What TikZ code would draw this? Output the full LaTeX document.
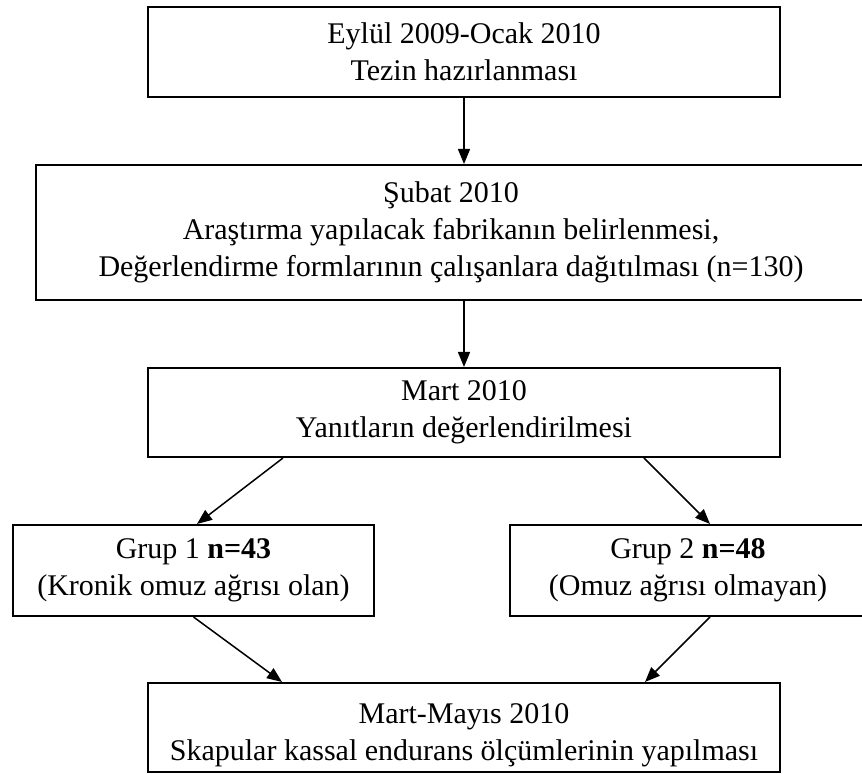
\documentclass[tikz,border=0pt]{standalone}
\usepackage{fontspec}
\setmainfont{Liberation Serif}
\usepackage{tikz}
\usetikzlibrary{positioning}
\usetikzlibrary{arrows.meta}

\begin{document}
\begin{tikzpicture}[x=1pt,y=1pt,
  kutu/.style={draw, line width=1pt, align=center, inner sep=0pt, font=\fontsize{15}{18.5}\selectfont},
  ok/.style={line width=0.75pt, -{Triangle[length=7.5pt,width=6pt]}}]

  \useasboundingbox (0,0) rectangle (431,387);

  \node[kutu, minimum width=316pt, minimum height=45pt] (tez) at (232,361) {Eylül 2009-Ocak 2010\\Tezin hazırlanması}; % Kutu 1
  \node[kutu, minimum width=415pt, minimum height=67.5pt] (subat) at (225.5,270.75) {Şubat 2010\\Araştırma yapılacak fabrikanın belirlenmesi,\\Değerlendirme formlarının çalışanlara dağıtılması (n=130)}; % Kutu 2
  \node[kutu, minimum width=316pt, minimum height=44.5pt] (mart) at (232,180.75) {Mart 2010\\Yanıtların değerlendirilmesi}; % Kutu 3

  \node[kutu, minimum width=180.5pt, minimum height=45.5pt] (grup1) at (96.75,101.75) {Grup 1 \textbf{n=43}\\(Kronik omuz ağrısı olan)};
  \node[kutu, minimum width=178pt, minimum height=45.5pt] (grup2) at (344,101.75) {Grup 2 \textbf{n=48}\\(Omuz ağrısı olmayan)};

  \node[kutu, minimum width=316pt, minimum height=44.5pt] (olcum) at (232,23.25) {\rule{0pt}{18pt}Mart-Mayıs 2010\\Skapular kassal endurans ölçümlerinin yapılması}; % Son kutu

  % Oklar
  \draw[ok] (tez.south) -- (tez.south |- subat.north);
  \draw[ok] (subat.south -| mart.south) -- (mart.north);
  \draw[ok] ([xshift=-90.5pt]mart.south) -- ([xshift=1.75pt]grup1.north);
  \draw[ok] ([xshift=90pt]mart.south) -- ([xshift=11pt]grup2.north);
  \draw[ok] (grup1.south) -- ([xshift=-91pt]olcum.north);
  \draw[ok] ([xshift=11pt]grup2.south) -- ([xshift=90.5pt]olcum.north);

\end{tikzpicture}
\end{document}
